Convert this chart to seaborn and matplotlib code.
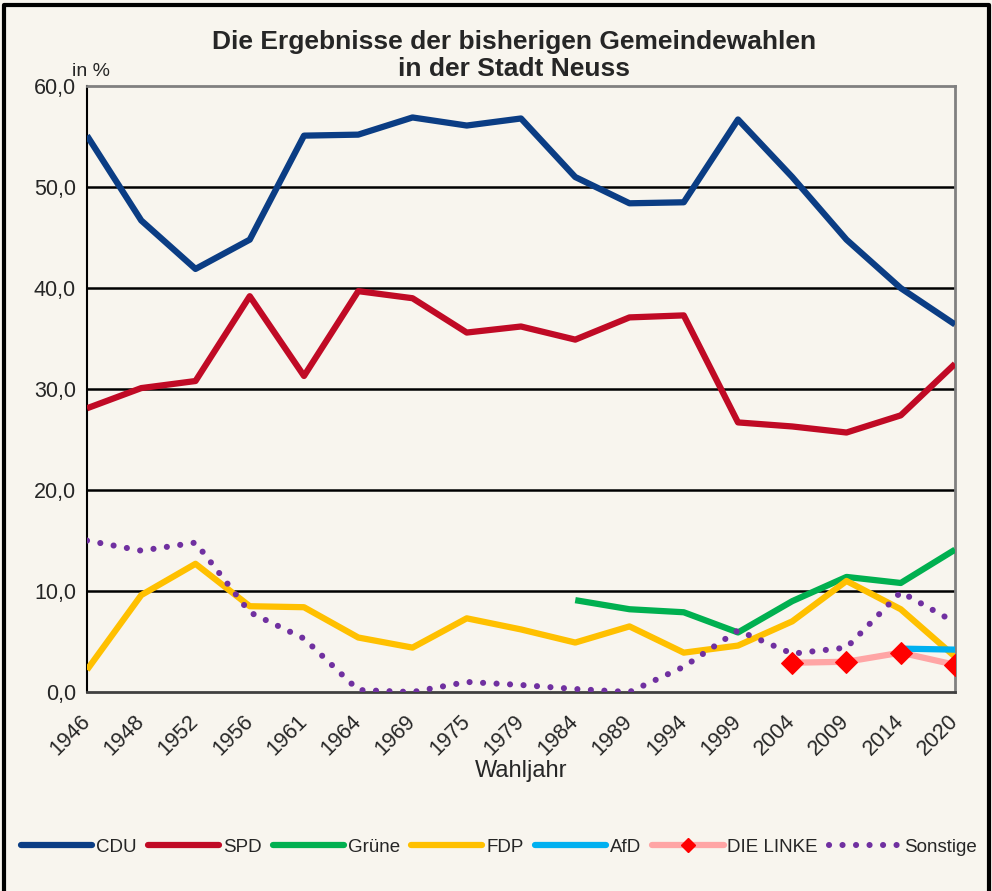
import numpy as np
import pandas as pd
import seaborn as sns
import matplotlib
matplotlib.use("Agg")
import matplotlib.pyplot as plt
from matplotlib.lines import Line2D

# ---- data ----
years = ['1946', '1948', '1952', '1956', '1961', '1964', '1969', '1975', '1979',
         '1984', '1989', '1994', '1999', '2004', '2009', '2014', '2020']
cdu = [55.1, 46.7, 41.9, 44.8, 55.1, 55.2, 56.9, 56.1, 56.8,
       51.0, 48.4, 48.5, 56.7, 51.0, 44.8, 40.0, 36.4]
spd = [28.1, 30.1, 30.8, 39.2, 31.3, 39.7, 39.0, 35.6, 36.2,
       34.9, 37.1, 37.3, 26.7, 26.3, 25.7, 27.4, 32.5]
gruene = [None] * 9 + [9.1, 8.2, 7.9, 5.9, 9.0, 11.4, 10.8, 14.1]
fdp = [2.2, 9.6, 12.7, 8.5, 8.4, 5.4, 4.4, 7.3, 6.2,
       4.9, 6.5, 3.9, 4.6, 7.0, 11.0, 8.2, 3.5]
afd = [None] * 15 + [4.3, 4.2]
linke = [None] * 13 + [2.9, 3.0, 3.9, 2.7]
sonstige = [15.0, 14.0, 14.8, 7.9, 5.3, 0.2, 0.0, 1.0, 0.7,
            0.3, 0.0, 2.5, 6.1, 3.8, 4.4, 9.9, 6.9]

df = pd.DataFrame({'pos': np.arange(len(years)), 'CDU': cdu, 'SPD': spd,
                   'Grüne': gruene, 'FDP': fdp, 'AfD': afd,
                   'DIE LINKE': linke, 'Sonstige': sonstige})

bg = '#F8F5EE'
sns.set_theme(style='white')
plt.rcParams['font.family'] = ['Liberation Sans', 'DejaVu Sans']

fig = plt.figure(figsize=(9.92, 8.91), dpi=100, facecolor=bg)
ax = fig.add_axes([0.0877, 0.2233, 0.875, 0.680])
ax.set_facecolor(bg)

lw = 4.5
styles = {
    'CDU': dict(color='#0B3D84'),
    'SPD': dict(color='#C00A25'),
    'Grüne': dict(color='#00B050'),
    'FDP': dict(color='#FFC000'),
    'AfD': dict(color='#00B0F0'),
}
for name, st in styles.items():
    sns.lineplot(data=df, x='pos', y=name, ax=ax, lw=lw, color=st['color'],
                 solid_capstyle='butt', zorder=3)
sns.lineplot(data=df, x='pos', y='DIE LINKE', ax=ax, lw=lw, color='#FFA5A5',
             marker='D', markersize=11, markerfacecolor='#FF0000',
             markeredgecolor='#FF0000', zorder=4)
sns.lineplot(data=df, x='pos', y='Sonstige', ax=ax, lw=4.4, color='#7030A0',
             linestyle=(0, (0.01, 2.2)), dash_capstyle='round', zorder=3)

ax.set_xlim(0, len(years) - 1)
ax.set_ylim(0, 60)
ax.set_yticks(np.arange(0, 61, 10))
ax.set_yticklabels([f'{v:.1f}'.replace('.', ',') for v in np.arange(0, 61, 10)],
                   fontsize=15.5)
ax.set_xticks(df['pos'])
ax.set_xticklabels(years, rotation=45, ha='right', va='center',
                   rotation_mode='anchor', fontsize=15.5)
ax.tick_params(axis='x', direction='inout', length=10, width=1, color='black', pad=14)
ax.tick_params(axis='y', direction='inout', length=10, width=1, color='black', pad=3)
for v in range(10, 51, 10):
    ax.axhline(v, color='black', lw=1.8, zorder=1)

ax.set_xlabel('Wahljahr', fontsize=17, labelpad=0)
ax.set_ylabel('')
for s in ['top', 'right']:
    ax.spines[s].set_color('#808080')
    ax.spines[s].set_linewidth(2)
ax.spines['left'].set_color('black')
ax.spines['left'].set_linewidth(1.5)
ax.spines['bottom'].set_color('#404040')
ax.spines['bottom'].set_linewidth(2)
ax.legend_ = None

fig.text(0.518, 0.938, 'Die Ergebnisse der bisherigen Gemeindewahlen\nin der Stadt Neuss',
         ha='center', va='center', fontsize=19, fontweight='bold', linespacing=1.15)
fig.text(72 / 992, 1 - 72 / 891, 'in %', ha='left', va='center', fontsize=14)

handles = [Line2D([], [], color=styles[n]['color'], lw=lw, solid_capstyle='round')
           for n in ['CDU', 'SPD', 'Grüne', 'FDP', 'AfD']]
handles.append(Line2D([], [], color='#FFA5A5', lw=lw, marker='D', markersize=7,
                      markerfacecolor='#FF0000', markeredgecolor='#FF0000'))
handles.append(Line2D([], [], color='#7030A0', lw=4.4, linestyle=(0, (0.01, 2.2)),
                      dash_capstyle='round'))
fig.legend(handles, ['CDU', 'SPD', 'Grüne', 'FDP', 'AfD', 'DIE LINKE', 'Sonstige'],
           loc='center', bbox_to_anchor=(0.503, 1 - 847 / 891), ncol=7, frameon=False,
           fontsize=13.5, handlelength=3.8, handletextpad=0.2, columnspacing=0.6)

# outer border
fig.add_artist(Line2D([0.004, 0.004, 0.997, 0.997], [0, 0.994, 0.994, 0],
                      transform=fig.transFigure, color='black', lw=3))

fig.savefig('out.png', dpi=100, facecolor=bg)
